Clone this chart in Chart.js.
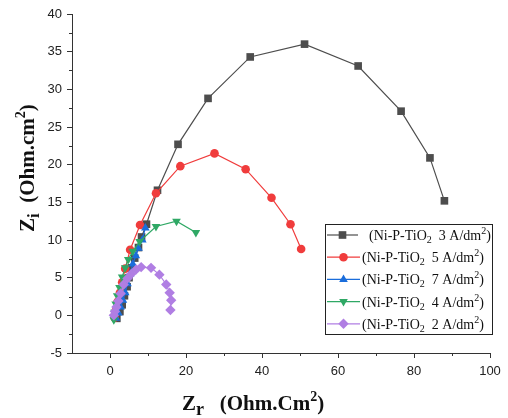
<!DOCTYPE html>
<html>
<head>
<meta charset="utf-8">
<script src="https://cdn.jsdelivr.net/npm/chart.js@4"></script>
<style>
  html, body { margin: 0; padding: 0; background: #fff; }
</style>
</head>
<body>
<canvas id="nyquist" width="508" height="418"></canvas>
<script>
// --------------------
// DATA (Zr, Zi in Ohm.cm2)
// --------------------
const zr3 = [1.8, 2.6, 3.2, 3.8, 4.5, 5.0, 5.6, 6.5, 7.5, 8.3, 9.6, 12.5, 17.9, 25.8, 36.9, 51.2, 65.3, 76.6, 84.2, 88.0];
const zi3 = [-0.4, 0.5, 1.4, 2.6, 3.8, 5.0, 6.3, 7.6, 9.0, 10.4, 12.1, 16.6, 22.7, 28.8, 34.3, 36.0, 33.1, 27.1, 20.9, 15.2];

const zr5 = [1.2, 1.5, 2.0, 2.6, 3.2, 4.0, 5.3, 7.9, 12.1, 18.5, 27.5, 35.7, 42.5, 47.5, 50.3];
const zi5 = [-0.3, 0.6, 1.8, 3.0, 4.4, 6.2, 8.7, 12.0, 16.2, 19.8, 21.5, 19.4, 15.6, 12.1, 8.8];

const zr7 = [1.6, 2.2, 2.8, 3.4, 4.0, 4.6, 5.3, 6.0, 6.8, 7.5, 8.5, 9.3];
const zi7 = [-0.4, 0.3, 1.1, 2.0, 3.0, 4.2, 5.5, 6.8, 7.9, 8.9, 10.0, 11.6];

const zr4 = [1.0, 1.2, 1.5, 1.9, 2.5, 3.2, 4.0, 4.8, 6.0, 7.8, 12.1, 17.5, 22.6];
const zi4 = [-0.6, 0.4, 1.5, 2.6, 3.7, 5.1, 6.3, 7.4, 8.5, 9.8, 11.8, 12.5, 11.0];

const zr2 = [1.0, 1.3, 1.7, 2.2, 2.8, 3.6, 4.6, 5.6, 6.9, 8.2, 10.8, 13.0, 14.8, 15.7, 16.1, 15.9];
const zi2 = [0.0, 0.5, 1.1, 1.9, 2.9, 4.1, 4.9, 5.5, 6.1, 6.4, 6.3, 5.4, 4.1, 3.0, 2.0, 0.7];

const densities = ["3", "5", "7", "4", "2"];

const xMin = -10, xMax = 100, xStep = 20;
const yMin = -5, yMax = 40, yStep = 5;

// --------------------
// SERIES STYLE
// --------------------
const series = [
  { zr: zr3, zi: zi3, color: "#4d4d4d", style: "rect", radius: 5.4, rotation: 0 },
  { zr: zr5, zi: zi5, color: "#f03c3c", style: "circle", radius: 4.3, rotation: 0 },
  { zr: zr7, zi: zi7, color: "#1a6ddb", style: "triangle", radius: 5, rotation: 0 },
  { zr: zr4, zi: zi4, color: "#2fa865", style: "triangle", radius: 5, rotation: 180 },
  { zr: zr2, zi: zi2, color: "#b07ee3", style: "rectRot", radius: 5.2, rotation: 0 }
];

const datasets = series.map((s, i) => ({
  label: "(Ni-P-TiO2 " + densities[i] + " A/dm2)",
  data: s.zr.map((x, k) => ({ x: x, y: s.zi[k] })),
  showLine: true,
  borderColor: s.color,
  backgroundColor: s.color,
  borderWidth: 1.2,
  pointStyle: s.style,
  pointRadius: s.radius,
  pointRotation: s.rotation,
  pointBorderWidth: 0,
  order: series.length - i
}));

// --------------------
// TEXT HELPERS
// --------------------
function drawRich(ctx, parts, x, y) {
  parts.forEach(p => {
    ctx.font = p.font;
    ctx.fillText(p.t, x, y + (p.dy || 0));
    x += ctx.measureText(p.t).width;
  });
  return x;
}

const serif = '"Liberation Serif", "Times New Roman", serif';

const extras = {
  id: "extras",
  afterDraw(chart) {
    const ctx = chart.ctx;
    const xs = chart.scales.x;
    const ys = chart.scales.y;
    const area = chart.chartArea;
    ctx.save();

    // minor ticks
    ctx.strokeStyle = "#333";
    ctx.lineWidth = 1;
    ctx.beginPath();
    for (let v = xMin + xStep; v < xMax; v += xStep) {
      const px = Math.round(xs.getPixelForValue(v)) + 0.5;
      ctx.moveTo(px, area.bottom);
      ctx.lineTo(px, area.bottom + 3);
    }
    for (let v = yMin + yStep / 2; v < yMax; v += yStep) {
      const py = Math.round(ys.getPixelForValue(v)) + 0.5;
      ctx.moveTo(area.left, py);
      ctx.lineTo(area.left - 3, py);
    }
    ctx.stroke();

    // legend
    const bx = 325, by = 224, bw = 167, bh = 110;
    ctx.strokeStyle = "#222";
    ctx.strokeRect(bx + 0.5, by + 0.5, bw, bh);
    ctx.fillStyle = "#111";
    ctx.textBaseline = "alphabetic";
    series.forEach((s, i) => {
      const cy = by + 11 + i * 22.2;
      const x0 = bx + 2, x1 = i === 0 ? bx + 33 : bx + 35;
      ctx.strokeStyle = s.color;
      ctx.lineWidth = 1.2;
      ctx.beginPath();
      ctx.moveTo(x0, cy);
      ctx.lineTo(x1, cy);
      ctx.stroke();
      ctx.fillStyle = s.color;
      Chart.helpers.drawPoint(ctx, { pointStyle: s.style, radius: s.radius, rotation: s.rotation, borderWidth: 0 }, (x0 + x1) / 2, cy);
      ctx.fillStyle = "#111";
      const tx = i === 0 ? bx + 44 : bx + 37;
      drawRich(ctx, [
        { t: "(Ni-P-TiO", font: "14px " + serif },
        { t: "2", font: "10px " + serif, dy: 3 },
        { t: "  " + densities[i] + " A/dm", font: "14px " + serif },
        { t: "2", font: "10px " + serif, dy: -6 },
        { t: ")", font: "14px " + serif }
      ], tx, cy + 5);
    });

    // x title
    ctx.fillStyle = "#111";
    drawRich(ctx, [
      { t: "Z", font: "bold 21px " + serif },
      { t: "r", font: "bold 18px " + serif, dy: 5 },
      { t: "   (Ohm.Cm", font: "bold 21px " + serif },
      { t: "2", font: "bold 14px " + serif, dy: -9 },
      { t: ")", font: "bold 21px " + serif }
    ], 182, 410);

    // y title
    ctx.translate(34, 232);
    ctx.rotate(-Math.PI / 2);
    drawRich(ctx, [
      { t: "Z", font: "bold 21px " + serif },
      { t: "i", font: "bold 17px " + serif, dy: 5 },
      { t: "  (Ohm.cm", font: "bold 21px " + serif },
      { t: "2", font: "bold 14px " + serif, dy: -9 },
      { t: ")", font: "bold 21px " + serif }
    ], 0, 0);

    ctx.restore();
  }
};

// --------------------
// CHART
// --------------------
const tickFont = { family: '"Liberation Sans", Arial, sans-serif', size: 13 };

new Chart(document.getElementById("nyquist").getContext("2d"), {
  type: "scatter",
  data: { datasets: datasets },
  options: {
    responsive: false,
    animation: false,
    layout: { padding: { top: 14, right: 18, left: 0, bottom: 0 } },
    plugins: { legend: { display: false }, tooltip: { enabled: false } },
    scales: {
      x: {
        type: "linear",
        min: xMin,
        max: xMax,
        ticks: {
          stepSize: xStep,
          color: "#222",
          font: tickFont,
          padding: 6,
          maxRotation: 0,
          callback: v => (v === xMin ? "" : v)
        },
        grid: {
          drawOnChartArea: false,
          tickLength: 5,
          tickColor: c => (c.tick && c.tick.value === xMin ? "rgba(0,0,0,0)" : "#333")
        },
        border: { display: true, color: "#333", width: 1 },
        afterFit: s => { s.height = 65; }
      },
      y: {
        type: "linear",
        min: yMin,
        max: yMax,
        ticks: {
          stepSize: yStep,
          color: "#222",
          font: tickFont,
          padding: 5
        },
        grid: {
          drawOnChartArea: false,
          tickLength: 5,
          tickColor: "#333"
        },
        border: { display: true, color: "#333", width: 1 },
        afterFit: s => { s.width = 72; }
      }
    }
  },
  plugins: [extras]
});
</script>
</body>
</html>
